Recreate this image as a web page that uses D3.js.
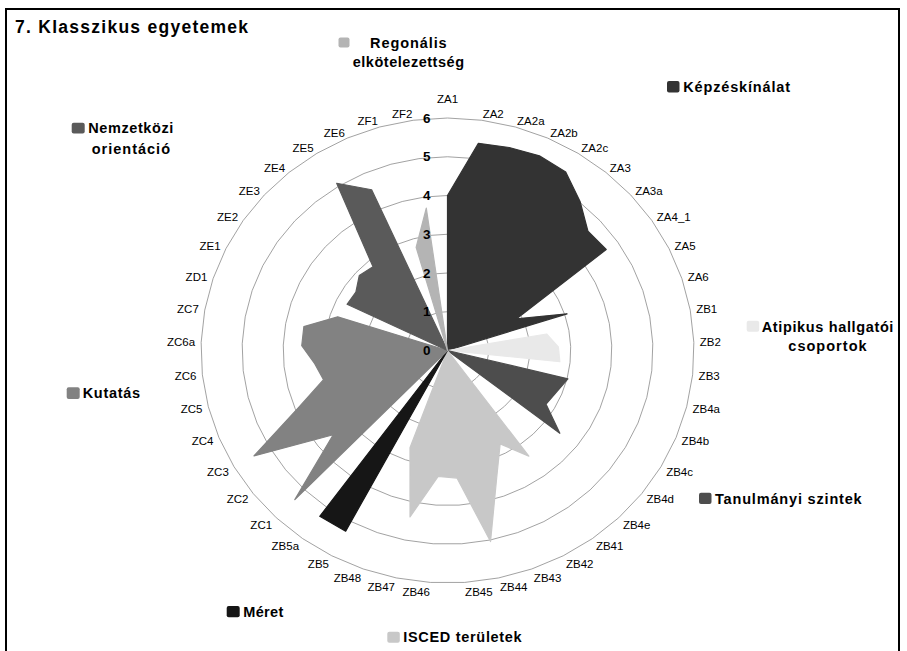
<!DOCTYPE html>
<html>
<head>
<meta charset="utf-8">
<script src="https://cdn.jsdelivr.net/npm/d3@7"></script>
<style>
  body { margin: 0; background: #fff; }
  svg { display: block; font-family: "Liberation Sans", Arial, sans-serif; }
</style>
</head>
<body>
<div id="chart"></div>
<script>

// axes of each series, clockwise from the top
var catKepzes = ["ZA1", "ZA2", "ZA2a", "ZA2b", "ZA2c", "ZA3", "ZA3a", "ZA4_1", "ZA5", "ZA6"];
var catAtipikus = ["ZB1", "ZB2", "ZB3"];
var catSzintek = ["ZB4a", "ZB4b", "ZB4c", "ZB4d", "ZB4e"];
var catIsced = ["ZB41", "ZB42", "ZB43", "ZB44", "ZB45", "ZB46", "ZB47", "ZB48"];
var catMeret = ["ZB5", "ZB5a"];
var catKutatas = ["ZC1", "ZC2", "ZC3", "ZC4", "ZC5", "ZC6", "ZC6a", "ZC7", "ZD1"];
var catNemzetkozi = ["ZE1", "ZE2", "ZE3", "ZE4", "ZE5", "ZE6"];
var catRegionalis = ["ZF1", "ZF2"];

// values
var valKepzes = [4.0, 5.4, 5.45, 5.5, 5.43, 5.02, 4.6, 4.66, 1.87, 3.06];
var valAtipikus = [2.45, 2.7, 2.75];
var valSzintek = [3.02, 2.86, 2.77, 3.47, 0];
var valIsced = [3.37, 2.73, 3.5, 5.04, 3.3, 3.26, 4.39, 2.67];
var valMeret = [5.28, 5.29];
var valKutatas = [5.35, 3.53, 5.44, 3.9, 3.11, 3.25, 3.55, 3.55, 2.81];
var valNemzetkozi = [2.72, 2.69, 2.89, 2.82, 5.09, 4.54];
var valRegionalis = [2.77, 3.71];

var seriesNames = ["Képzéskínálat", "Atipikus hallgatói csoportok", "Tanulmányi szintek",
                   "ISCED területek", "Méret", "Kutatás", "Nemzetközi orientáció",
                   "Regonális elkötelezettség"];
var seriesCats = [catKepzes, catAtipikus, catSzintek, catIsced, catMeret, catKutatas, catNemzetkozi, catRegionalis];
var seriesVals = [valKepzes, valAtipikus, valSzintek, valIsced, valMeret, valKutatas, valNemzetkozi, valRegionalis];

var tickValues = [0, 1, 2, 3, 4, 5, 6];
var title = "7. Klasszikus egyetemek";

var categories = [].concat.apply([], seriesCats);

var colors = ["#333333", "#e9e9e9", "#4d4d4d", "#c8c8c8", "#161616", "#828282", "#5a5a5a", "#b4b4b4"];

// legend placement: square [x, y, w, h] and one [x, y, textLength] per text line
var legendPos = [
  {sq: [667, 81, 12.5, 11.5], lines: [[683.3, 86.7, 106.7]]},
  {sq: [746.7, 320.7, 12.5, 11], lines: [[761.7, 326.7, 131.7], [788.3, 346, 78.3]]},
  {sq: [699, 492.7, 12.5, 11.3], lines: [[715, 499.3, 146.7]]},
  {sq: [387.3, 631.7, 12.5, 11], lines: [[403.3, 637.3, 118.4]]},
  {sq: [226.7, 606, 13, 11.3], lines: [[243.3, 611.7, 40]]},
  {sq: [66.7, 387.3, 13, 11.7], lines: [[82.7, 393.3, 57.3]]},
  {sq: [71.7, 122.7, 13, 10.7], lines: [[88.3, 128.3, 85], [91.7, 149.3, 78.3]]},
  {sq: [338.5, 37.5, 11, 10], lines: [[370, 42.7, 76.7], [352.7, 61.7, 111.3]]}
];

var W = 907, H = 651;
var cx = 447.5, cy = 350.5;

var svg = d3.select("#chart")
  .append("svg")
    .attr("width", W)
    .attr("height", H);

svg.append("rect")
  .attr("width", W).attr("height", H)
  .attr("fill", "#fff");

// frame
svg.append("rect")
  .attr("x", 6).attr("y", 9)
  .attr("width", 893).attr("height", 700)
  .attr("fill", "none")
  .attr("stroke", "#000")
  .attr("stroke-width", 2);

svg.append("text")
  .attr("x", 15).attr("y", 27)
  .attr("dominant-baseline", "central")
  .attr("font-size", 17.5)
  .attr("font-weight", "bold")
  .attr("textLength", 233)
  .attr("lengthAdjust", "spacing")
  .text(title);

// radius scales (plot is a little wider than tall)
var rx = d3.scaleLinear().domain([0, 6]).range([0, 246.5]);
var ry = d3.scaleLinear().domain([0, 6]).range([0, 232.5]);
var angle = d3.scaleLinear().domain([0, categories.length]).range([0, 2 * Math.PI]);

function px(i, v) { return cx + rx(v) * Math.sin(angle(i)); }
function py(i, v) { return cy - ry(v) * Math.cos(angle(i)); }

// grid rings
var rings = svg.append("g");
tickValues.slice(1).forEach(function(t) {
  rings.append("path")
    .attr("d", d3.line()
      .x(function(d, i) { return px(i, t); })
      .y(function(d, i) { return py(i, t); })
      .curve(d3.curveLinearClosed)(categories))
    .attr("fill", "none")
    .attr("stroke", "#8a8a8a")
    .attr("stroke-width", 0.8);
});

// series areas, zero on the axes of other series
var areas = svg.append("g");
seriesNames.forEach(function(name, s) {
  var full = categories.map(function(c) {
    var k = seriesCats[s].indexOf(c);
    return k < 0 ? 0 : seriesVals[s][k];
  });
  areas.append("path")
    .datum(full)
    .attr("d", d3.line()
      .x(function(d, i) { return px(i, d); })
      .y(function(d, i) { return py(i, d); })
      .curve(d3.curveLinearClosed))
    .attr("fill", colors[s])
    .attr("stroke", colors[s])
    .attr("stroke-width", 1.2)
    .attr("stroke-linejoin", "round");
});

// category labels
var gap = 6;
svg.append("g")
  .selectAll("text")
  .data(categories)
  .enter().append("text")
    .attr("font-size", 11.5)
    .attr("dominant-baseline", "central")
    .attr("text-anchor", function(d, i) {
      var s = Math.sin(angle(i));
      return Math.abs(s) < 0.01 ? "middle" : (s > 0 ? "start" : "end");
    })
    .attr("x", function(d, i) { return cx + (rx(6) + gap) * Math.sin(angle(i)); })
    .attr("y", function(d, i) {
      var c = Math.cos(angle(i));
      var y = cy - (ry(6) + gap) * c;
      if (Math.abs(Math.sin(angle(i))) < 0.01) return y - 13 * c;
      return c < 0 ? y - 3.5 * c : y;
    })
    .text(function(d) { return d; });

// value axis labels
svg.append("g")
  .selectAll("text")
  .data(tickValues)
  .enter().append("text")
    .attr("x", cx - 17)
    .attr("y", function(d) { return cy - ry(d); })
    .attr("text-anchor", "end")
    .attr("dominant-baseline", "central")
    .attr("font-size", 13.5)
    .attr("font-weight", "bold")
    .text(function(d) { return d; });

// legend
var legend = svg.append("g");
seriesNames.forEach(function(name, s) {
  var pos = legendPos[s];
  legend.append("rect")
    .attr("x", pos.sq[0]).attr("y", pos.sq[1])
    .attr("width", pos.sq[2]).attr("height", pos.sq[3])
    .attr("rx", 2)
    .attr("fill", colors[s]);
  var parts = [name];
  if (pos.lines.length == 2) {
    var cut = name.lastIndexOf(" ");
    parts = [name.slice(0, cut), name.slice(cut + 1)];
  }
  pos.lines.forEach(function(l, k) {
    legend.append("text")
      .attr("x", l[0]).attr("y", l[1])
      .attr("dominant-baseline", "central")
      .attr("font-size", 14.5)
      .attr("font-weight", "bold")
      .attr("textLength", l[2])
      .attr("lengthAdjust", "spacing")
      .text(parts[k]);
  });
});

</script>
</body>
</html>
